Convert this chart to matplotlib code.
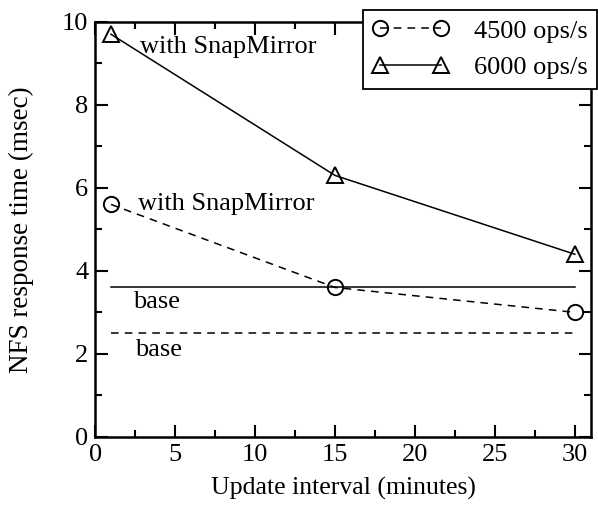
import matplotlib
matplotlib.use("Agg")
import matplotlib.pyplot as plt
from matplotlib.ticker import MultipleLocator

plt.rcParams['font.family'] = ['Liberation Serif', 'DejaVu Serif']

intervals = [1, 15, 30]
ops4500 = [5.6, 3.6, 3.0]
ops6000 = [9.7, 6.3, 4.4]
base_x = [1, 30]
base4500 = [2.5, 2.5]
base6000 = [3.6, 3.6]

fig = plt.figure(figsize=(5.98, 5.08), dpi=100)
ax = fig.add_axes([0.159, 0.140, 0.829, 0.817])

dash = (0, (5, 4))
mk = dict(markersize=11, markerfacecolor='none', markeredgewidth=1.4)
l1, = ax.plot(intervals, ops4500, color='black', lw=1.1, linestyle=dash,
              marker='o', label='4500 ops/s', **mk)
l2, = ax.plot(intervals, ops6000, color='black', lw=1.1, linestyle='-',
              marker='^', label='6000 ops/s', **mk)
ax.plot(base_x, base6000, color='black', lw=1.1, linestyle='-')
ax.plot(base_x, base4500, color='black', lw=1.1, linestyle=dash)

fs = 19
ax.text(2.8, 9.4, 'with SnapMirror', fontsize=fs, va='center', ha='left')
ax.text(2.7, 5.6, 'with SnapMirror', fontsize=fs, va='center', ha='left')
ax.text(2.4, 3.25, 'base', fontsize=fs, va='center', ha='left')
ax.text(2.5, 2.1, 'base', fontsize=fs, va='center', ha='left')

ax.set_xlim(0, 31)
ax.set_ylim(0, 10)
ax.xaxis.set_major_locator(MultipleLocator(5))
ax.xaxis.set_minor_locator(MultipleLocator(2.5))
ax.yaxis.set_major_locator(MultipleLocator(2))
ax.yaxis.set_minor_locator(MultipleLocator(1))
ax.tick_params(which='both', direction='in', top=True, right=True, labelsize=fs, width=1.5)
ax.tick_params(which='major', length=9, pad=5)
ax.tick_params(which='minor', length=5)
for s in ax.spines.values():
    s.set_linewidth(1.8)

ax.set_xlabel('Update interval (minutes)', fontsize=18.5, labelpad=8)
ax.set_ylabel('NFS response time (msec)', fontsize=19.5, labelpad=20)

leg = fig.legend(handles=[l1, l2], loc='upper left', bbox_to_anchor=(363/598, 1 - 10/508),
                 fontsize=fs, numpoints=2, handlelength=2.9, frameon=True, fancybox=False,
                 edgecolor='black', framealpha=1, borderpad=0.35, labelspacing=0.5,
                 borderaxespad=0, handletextpad=0.95)
leg.get_frame().set_linewidth(1.3)

fig.savefig('out.png', dpi=100)
